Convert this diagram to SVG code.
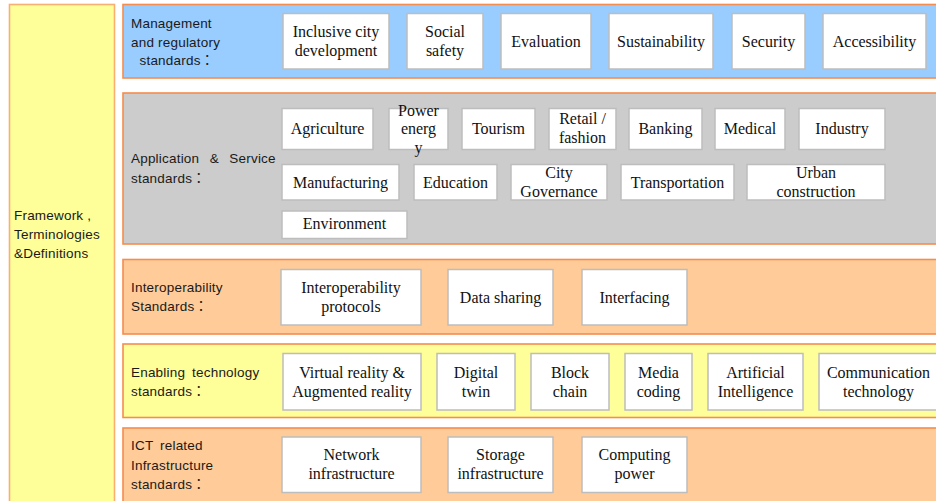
<svg xmlns="http://www.w3.org/2000/svg" width="936" height="501" viewBox="0 0 936 501">
<style>
.band{stroke:#F58D4E;stroke-width:1.6}
.col{fill:#FFFF99;stroke:#F9AE72;stroke-width:1.6}
.box{fill:#FFFFFF;stroke:#BDBDBD;stroke-width:1.5}
.lbl{font-family:"Liberation Sans","Noto Sans CJK KR",sans-serif;font-size:13.5px;letter-spacing:0.2px;fill:#1a1a1a}
.bt{font-family:"Liberation Serif","Times New Roman",serif;font-size:16px;fill:#111;text-anchor:middle}
</style>
<rect width="936" height="501" fill="#FFFFFF"/>

<g id="framework">
<rect class="col" x="9.5" y="4.5" width="105" height="500"/>
<text class="lbl" x="14" y="220">Framework ,</text>
<text class="lbl" x="14" y="239">Terminologies</text>
<text class="lbl" x="14" y="257.5">&amp;Definitions</text>
</g>

<g id="management">
<rect class="band" x="123" y="4.5" width="820" height="73.5" fill="#99CCFF"/>
<text class="lbl" x="131" y="28">Management</text>
<text class="lbl" x="131" y="46.5">and regulatory</text>
<text class="lbl" x="139.5" y="65">standards：</text>
</g>
<g id="inclusive"><rect class="box" x="283" y="13.5" width="106" height="55.5"/><text class="bt" x="336" y="36.5">Inclusive city</text><text class="bt" x="336" y="55.5">development</text></g>
<g id="social"><rect class="box" x="407" y="13.5" width="76" height="55.5"/><text class="bt" x="445" y="36.5">Social</text><text class="bt" x="445" y="55.5">safety</text></g>
<g id="evaluation"><rect class="box" x="501" y="13.5" width="90" height="55.5"/><text class="bt" x="546" y="46.5">Evaluation</text></g>
<g id="sustainability"><rect class="box" x="609" y="13.5" width="104" height="55.5"/><text class="bt" x="661" y="46.5">Sustainability</text></g>
<g id="security"><rect class="box" x="732" y="13.5" width="73" height="55.5"/><text class="bt" x="768.5" y="46.5">Security</text></g>
<g id="accessibility"><rect class="box" x="823" y="13.5" width="103" height="55.5"/><text class="bt" x="874.5" y="46.5">Accessibility</text></g>

<g id="application">
<rect class="band" x="123" y="93" width="820" height="151" fill="#CCCCCC"/>
<text class="lbl" x="131" y="163" word-spacing="6.5">Application &amp; Service</text>
<text class="lbl" x="131" y="183">standards：</text>
</g>
<g id="agriculture"><rect class="box" x="282" y="108.5" width="91" height="41"/><text class="bt" x="327.5" y="134">Agriculture</text></g>
<g id="power"><rect class="box" x="389" y="108.5" width="59" height="41"/><text class="bt" x="418.5" y="115.5">Power</text><text class="bt" x="418.5" y="134">energ</text><text class="bt" x="418.5" y="152.5">y</text></g>
<g id="tourism"><rect class="box" x="462" y="108.5" width="73" height="41"/><text class="bt" x="498.5" y="134">Tourism</text></g>
<g id="retail"><rect class="box" x="549" y="108.5" width="67" height="41"/><text class="bt" x="582.5" y="124">Retail /</text><text class="bt" x="582.5" y="142.5">fashion</text></g>
<g id="banking"><rect class="box" x="629" y="108.5" width="73" height="41"/><text class="bt" x="665.5" y="134">Banking</text></g>
<g id="medical"><rect class="box" x="715" y="108.5" width="70" height="41"/><text class="bt" x="750" y="134">Medical</text></g>
<g id="industry"><rect class="box" x="799" y="108.5" width="86" height="41"/><text class="bt" x="842" y="134">Industry</text></g>
<g id="manufacturing"><rect class="box" x="282" y="164.5" width="117" height="35.5"/><text class="bt" x="340.5" y="187.5">Manufacturing</text></g>
<g id="education"><rect class="box" x="414" y="164.5" width="83" height="35.5"/><text class="bt" x="455.5" y="187.5">Education</text></g>
<g id="governance"><rect class="box" x="511" y="164.5" width="96" height="35.5"/><text class="bt" x="559" y="178">City</text><text class="bt" x="559" y="196.5">Governance</text></g>
<g id="transportation"><rect class="box" x="621" y="164.5" width="113" height="35.5"/><text class="bt" x="677.5" y="187.5">Transportation</text></g>
<g id="urban"><rect class="box" x="747" y="164.5" width="138" height="35.5"/><text class="bt" x="816" y="178">Urban</text><text class="bt" x="816" y="196.5">construction</text></g>
<g id="environment"><rect class="box" x="282" y="211" width="125" height="27.5"/><text class="bt" x="344.5" y="229">Environment</text></g>

<g id="interoperability">
<rect class="band" x="123" y="259.5" width="820" height="74.5" fill="#FFCC99"/>
<text class="lbl" x="131" y="292">Interoperability</text>
<text class="lbl" x="131" y="311">Standards：</text>
</g>
<g id="protocols"><rect class="box" x="281" y="269.5" width="140" height="55.5"/><text class="bt" x="351" y="292.5">Interoperability</text><text class="bt" x="351" y="311.5">protocols</text></g>
<g id="datasharing"><rect class="box" x="448" y="269.5" width="105" height="55.5"/><text class="bt" x="500.5" y="302.5">Data sharing</text></g>
<g id="interfacing"><rect class="box" x="582" y="269.5" width="105" height="55.5"/><text class="bt" x="634.5" y="302.5">Interfacing</text></g>

<g id="enabling">
<rect class="band" x="123" y="344" width="820" height="73.5" fill="#FFFF99"/>
<text class="lbl" x="131" y="377" word-spacing="3">Enabling technology</text>
<text class="lbl" x="131" y="395.5">standards：</text>
</g>
<g id="vrar"><rect class="box" x="283" y="353.5" width="138" height="56.5"/><text class="bt" x="352" y="377.5">Virtual reality &amp;</text><text class="bt" x="352" y="396.5">Augmented reality</text></g>
<g id="digitaltwin"><rect class="box" x="437" y="353.5" width="78" height="56.5"/><text class="bt" x="476" y="377.5">Digital</text><text class="bt" x="476" y="396.5">twin</text></g>
<g id="blockchain"><rect class="box" x="531" y="353.5" width="78" height="56.5"/><text class="bt" x="570" y="377.5">Block</text><text class="bt" x="570" y="396.5">chain</text></g>
<g id="media"><rect class="box" x="625" y="353.5" width="67" height="56.5"/><text class="bt" x="658.5" y="377.5">Media</text><text class="bt" x="658.5" y="396.5">coding</text></g>
<g id="ai"><rect class="box" x="708" y="353.5" width="95" height="56.5"/><text class="bt" x="755.5" y="377.5">Artificial</text><text class="bt" x="755.5" y="396.5">Intelligence</text></g>
<g id="communication"><rect class="box" x="819" y="353.5" width="124" height="56.5"/><text class="bt" x="878.5" y="377.5">Communication</text><text class="bt" x="878.5" y="396.5">technology</text></g>

<g id="ict">
<rect class="band" x="123" y="428" width="820" height="80" fill="#FFCC99"/>
<text class="lbl" x="131" y="450" word-spacing="3">ICT related</text>
<text class="lbl" x="131" y="469.5">Infrastructure</text>
<text class="lbl" x="131" y="488.5">standards：</text>
</g>
<g id="network"><rect class="box" x="282" y="437" width="139" height="55.5"/><text class="bt" x="351.5" y="459.5">Network</text><text class="bt" x="351.5" y="478.5">infrastructure</text></g>
<g id="storage"><rect class="box" x="448" y="437" width="105" height="55.5"/><text class="bt" x="500.5" y="459.5">Storage</text><text class="bt" x="500.5" y="478.5">infrastructure</text></g>
<g id="computing"><rect class="box" x="582" y="437" width="105" height="55.5"/><text class="bt" x="634.5" y="459.5">Computing</text><text class="bt" x="634.5" y="478.5">power</text></g>
</svg>
